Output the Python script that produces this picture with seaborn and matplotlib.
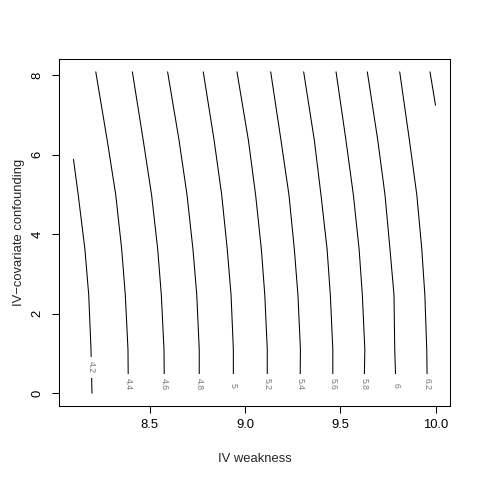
import numpy as np
import pandas as pd
import seaborn as sns
import matplotlib
matplotlib.use("Agg")
import matplotlib.pyplot as plt

# contour lines: x position of each level at these heights
y_grid = [0.0, 1.1, 2.47, 3.62, 4.98, 6.36, 8.08]
x_44 = [8.388, 8.386, 8.372, 8.353, 8.322, 8.277, 8.217]
x_46 = [8.577, 8.575, 8.561, 8.542, 8.510, 8.466, 8.409]
x_48 = [8.760, 8.760, 8.747, 8.727, 8.696, 8.654, 8.594]
x_50 = [8.939, 8.939, 8.927, 8.907, 8.878, 8.838, 8.781]
x_52 = [9.117, 9.117, 9.104, 9.086, 9.056, 9.018, 8.958]
x_54 = [9.289, 9.291, 9.278, 9.259, 9.231, 9.189, 9.135]
x_56 = [9.461, 9.461, 9.448, 9.431, 9.399, 9.364, 9.308]
x_58 = [9.625, 9.629, 9.616, 9.599, 9.569, 9.530, 9.478]
x_60 = [9.793, 9.786, 9.782, 9.761, 9.735, 9.697, 9.642]
x_62 = [9.957, 9.954, 9.944, 9.928, 9.902, 9.863, 9.812]

# the two partial lines at the edges
y_42 = [0.0, 1.1, 2.47, 3.62, 4.98, 5.88]
x_42 = [8.197, 8.192, 8.180, 8.160, 8.125, 8.100]
y_64 = [7.24, 8.08]
x_64 = [10.0, 9.971]

level_names = ["4.2", "4.4", "4.6", "4.8", "5", "5.2", "5.4", "5.6", "5.8", "6", "6.2", "6.4"]

xs = [x_42, x_44, x_46, x_48, x_50, x_52, x_54, x_56, x_58, x_60, x_62, x_64]
ys = [y_42] + [y_grid] * 10 + [y_64]

rows = []
for name, xv, yv in zip(level_names, xs, ys):
    for a, b in zip(xv, yv):
        rows.append({"level": name, "x": a, "y": b})
df = pd.DataFrame(rows)

sns.set_style("white")
plt.rcParams["font.family"] = ["Liberation Sans", "DejaVu Sans"]

fig = plt.figure(figsize=(4.8, 4.8), dpi=100)
ax = fig.add_axes([59 / 480, 1 - 406 / 480, 391 / 480, 347 / 480])

sns.lineplot(data=df, x="x", y="y", units="level", estimator=None, sort=False,
             color="black", lw=0.75, ax=ax, legend=False)

# R-style labels sitting in a gap of the line (last short line has none)
for name, xv, yv in zip(level_names[:-1], xs[:-1], ys[:-1]):
    if name == "4.2":
        ly, pad = 0.65, 0.5
    elif len(name) == 1:
        ly, pad = 0.2, 1.0
    else:
        ly, pad = 0.23, 0.5
    lx = np.interp(ly, yv, xv)
    ax.text(lx, ly, name, rotation=-90, ha="center", va="center",
            fontsize=6.2, color="#777777",
            bbox=dict(boxstyle=f"square,pad={pad}", fc="white", ec="none"))

# R's 4% axis padding
xmin, xmax = 8.1, 10.0
ymin, ymax = 0.0, 8.08
ax.set_xlim(xmin - 0.04 * (xmax - xmin), xmax + 0.04 * (xmax - xmin))
ax.set_ylim(ymin - 0.04 * (ymax - ymin), ymax + 0.04 * (ymax - ymin))

ax.set_xticks([8.5, 9.0, 9.5, 10.0])
ax.set_xticklabels(["8.5", "9.0", "9.5", "10.0"])
ax.set_yticks([0, 2, 4, 6, 8])
ax.set_yticklabels(["0", "2", "4", "6", "8"], rotation=90, va="center")
ax.tick_params(axis="both", direction="out", length=5, width=0.75,
               labelsize=9.4, colors="black", bottom=True, left=True)
ax.tick_params(axis="x", pad=4)
ax.tick_params(axis="y", pad=6)

for s in ax.spines.values():
    s.set_color("black")
    s.set_linewidth(0.75)

ax.set_xlabel("IV weakness", fontsize=9.4, labelpad=16)
ax.set_ylabel("IV\u2212covariate confounding", fontsize=9.4, labelpad=5)

fig.savefig("out.png", dpi=100)
